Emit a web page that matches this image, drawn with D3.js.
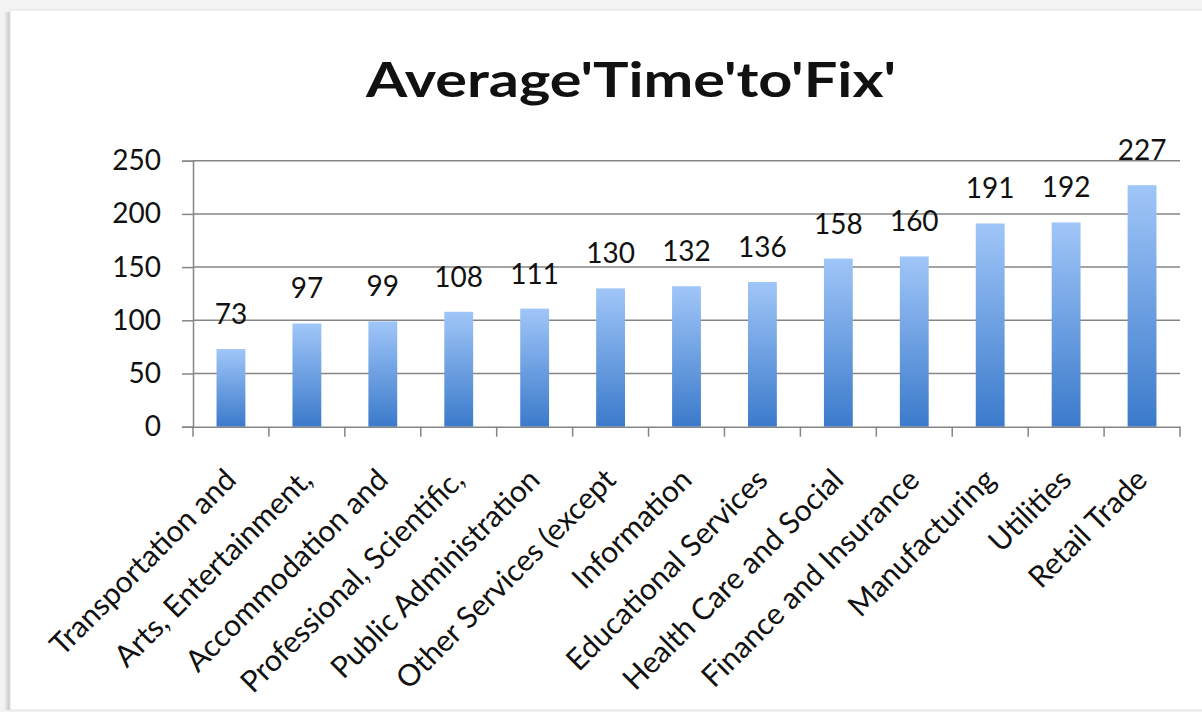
<!DOCTYPE html>
<html>
<head>
<meta charset="utf-8">
<script src="https://cdn.jsdelivr.net/npm/d3@7"></script>
<style>
  html, body { margin: 0; padding: 0; background: #f3f3f3; }
  svg { display: block; }
  text { font-family: Lato, "Open Sans", sans-serif; fill: #111; }
</style>
</head>
<body>
<svg id="chart" width="1202" height="712"></svg>
<script>
const title = "Average'Time'to'Fix'";
const categories = [
  "Transportation and",
  "Arts, Entertainment,",
  "Accommodation and",
  "Professional, Scientific,",
  "Public Administration",
  "Other Services (except",
  "Information",
  "Educational Services",
  "Health Care and Social",
  "Finance and Insurance",
  "Manufacturing",
  "Utilities",
  "Retail Trade"
];
const values = [73, 97, 99, 108, 111, 130, 132, 136, 158, 160, 191, 192, 227];
const yTicks = [0, 50, 100, 150, 200, 250];

const svg = d3.select("#chart");
const W = 1202, H = 712;
const plot = { left: 193, right: 1180, top: 160.7, bottom: 426.7 };

const defs = svg.append("defs");
const shadow = defs.append("linearGradient").attr("id", "panelShadow")
  .attr("x1", 0).attr("x2", 1).attr("y1", 0).attr("y2", 0);
shadow.append("stop").attr("offset", 0).attr("stop-color", "#f3f3f3");
shadow.append("stop").attr("offset", 1).attr("stop-color", "#c4c4c4");

const grad = defs.append("linearGradient").attr("id", "barGrad")
  .attr("x1", 0).attr("x2", 0).attr("y1", 0).attr("y2", 1);
grad.append("stop").attr("offset", 0).attr("stop-color", "#a0c6f8");
grad.append("stop").attr("offset", 1).attr("stop-color", "#3b7acb");

// panel
svg.append("rect").attr("x", 4).attr("y", 12).attr("width", 6).attr("height", 698)
  .attr("fill", "url(#panelShadow)");
svg.append("rect").attr("x", 10).attr("y", 10).attr("width", W).attr("height", 700)
  .attr("fill", "#ffffff").attr("stroke", "#e2e2e2").attr("stroke-width", 1);

const x = d3.scaleBand().domain(categories).range([plot.left, plot.right])
  .paddingInner(0.62).paddingOuter(0.31);
const y = d3.scaleLinear().domain([0, 250]).range([plot.bottom, plot.top]);

// gridlines
svg.append("g").selectAll("line").data(yTicks.filter(d => d > 0)).join("line")
  .attr("x1", plot.left).attr("x2", plot.right)
  .attr("y1", d => y(d)).attr("y2", d => y(d))
  .attr("stroke", "#858585").attr("stroke-width", 1.5);

// y axis
const yAxis = svg.append("g").attr("transform", `translate(${plot.left},0)`)
  .call(d3.axisLeft(y).tickValues(yTicks).tickSize(11).tickPadding(21));
yAxis.select(".domain").attr("stroke", "#858585").attr("stroke-width", 1.5);
yAxis.selectAll(".tick line").attr("stroke", "#858585").attr("stroke-width", 1.5);
yAxis.selectAll(".tick text").attr("font-size", 28).attr("font-family", "Lato").attr("fill", "#111");

// bars
svg.append("g").selectAll("rect").data(values).join("rect")
  .attr("x", (d, i) => x(categories[i]))
  .attr("width", x.bandwidth())
  .attr("y", d => y(d))
  .attr("height", d => y(0) - y(d))
  .attr("fill", "url(#barGrad)");

// x axis
const xAxis = svg.append("g").attr("transform", `translate(0,${plot.bottom})`)
  .call(d3.axisBottom(x).tickSize(0).tickFormat(""));
xAxis.select(".domain").attr("stroke", "#858585").attr("stroke-width", 1.5);
xAxis.selectAll(".tick").remove();
// boundary ticks between categories
const bounds = d3.range(categories.length + 1).map(i => plot.left + i * (plot.right - plot.left) / categories.length);
xAxis.selectAll("line.bt").data(bounds).join("line").attr("class", "bt")
  .attr("x1", d => d).attr("x2", d => d).attr("y1", 0).attr("y2", 10)
  .attr("stroke", "#858585").attr("stroke-width", 1.5);

// category labels
svg.append("g").selectAll("text").data(categories).join("text")
  .attr("transform", d => `translate(${x(d) + x.bandwidth() / 2 + 7},${plot.bottom + 55}) rotate(-45)`)
  .attr("text-anchor", "end")
  .attr("font-size", 30)
  .text(d => d);

// value labels
svg.append("g").selectAll("text").data(values).join("text")
  .attr("x", (d, i) => x(categories[i]) + x.bandwidth() / 2)
  .attr("y", d => y(d) - 25)
  .attr("text-anchor", "middle")
  .attr("font-size", 28)
  .text(d => d);

// title
svg.append("text")
  .attr("x", 631).attr("y", 97)
  .attr("text-anchor", "middle")
  .attr("font-size", 47)
  .attr("font-weight", "bold")
  .attr("textLength", 530).attr("lengthAdjust", "spacingAndGlyphs")
  .text(title);
</script>
</body>
</html>
